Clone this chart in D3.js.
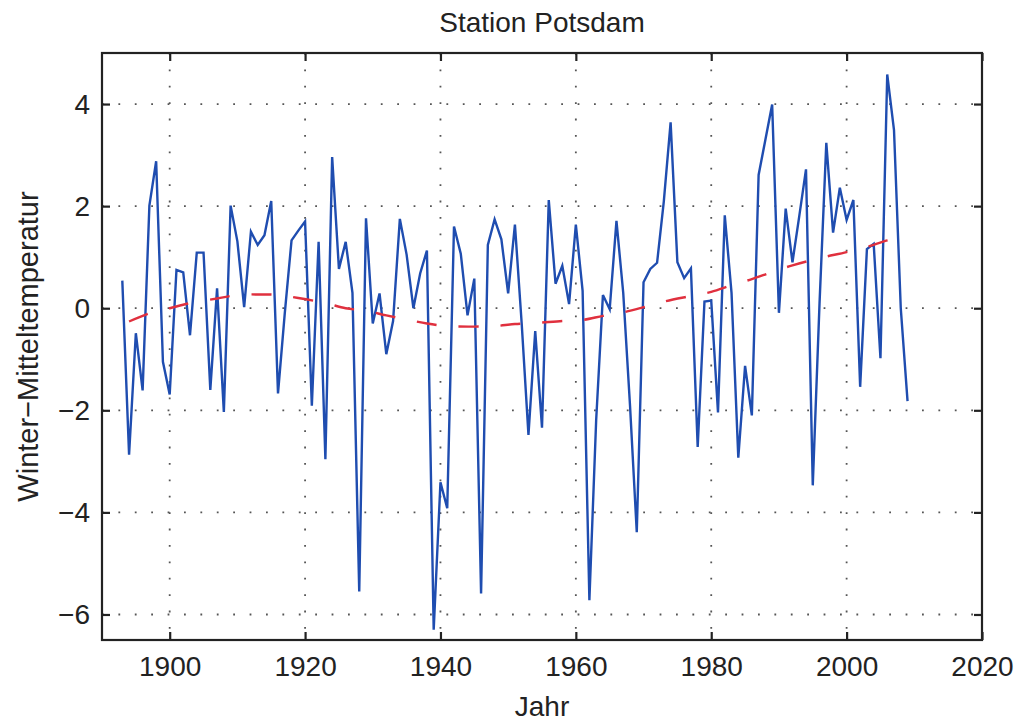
<!DOCTYPE html>
<html>
<head>
<meta charset="utf-8">
<script src="https://cdn.jsdelivr.net/npm/d3@7"></script>
<style>
  body { margin: 0; background: #fff; }
  text { font-family: "Liberation Sans", Arial, sans-serif; fill: #222; }
</style>
</head>
<body>
<div id="container"></div>
<script>
let w = 1016;
let h = 722;
let margin = {left: 102, right: 34, top: 53, bottom: 82};

// winter mean temperature, Potsdam, 1893-2009
let firstYear = 1893;
let temps = [
    0.54, -2.87, -0.49, -1.61, 2.01, 2.88, -1.05,
    -1.69, 0.75, 0.70, -0.53, 1.09, 1.09, -1.60, 0.39, -2.03, 2.01,
    1.31, 0.02, 1.50, 1.24, 1.43, 2.10, -1.67, -0.10, 1.33, 1.52,
    1.70, -1.91, 1.30, -2.96, 2.96, 0.77, 1.30, 0.30, -5.55, 1.76,
    -0.30, 0.29, -0.90, -0.25, 1.75, 1.05, 0.00, 0.68, 1.13, -6.30,
    -3.41, -3.92, 1.60, 1.07, -0.14, 0.58, -5.59, 1.24, 1.74, 1.35,
    0.29, 1.64, -0.30, -2.48, -0.45, -2.34, 2.12, 0.48, 0.83, 0.08,
    1.64, 0.34, -5.72, -2.20, 0.26, -0.02, 1.71, 0.30, -1.90, -4.39,
    0.51, 0.77, 0.89, 2.10, 3.64, 0.90, 0.59, 0.78, -2.72, 0.13,
    0.15, -2.04, 1.82, 0.30, -2.93, -1.13, -2.10, 2.61, 3.30, 3.99,
    -0.09, 1.95, 0.90, 1.80, 2.72, -3.47, 0.10, 3.24, 1.48, 2.36,
    1.73, 2.12, -1.54, 1.16, 1.26, -0.98, 4.58, 3.49, 0.00, -1.82
];

// smoothed trend (red dashed)
let trendYears = [1894, 1897, 1900, 1903, 1907, 1910, 1913, 1916, 1919, 1923,
    1926, 1929, 1932, 1935, 1938, 1941, 1945, 1948, 1951, 1954,
    1958, 1961, 1964, 1967, 1970, 1973, 1977, 1980, 1983, 1986,
    1989, 1992, 1996, 2000, 2003, 2006, 2009];
let trendValues = [-0.26, -0.10, 0.00, 0.10, 0.19, 0.26, 0.27, 0.26, 0.20, 0.10,
    0.00, -0.05, -0.14, -0.22, -0.30, -0.35, -0.36, -0.35, -0.31, -0.29,
    -0.25, -0.23, -0.15, -0.08, 0.02, 0.13, 0.24, 0.32, 0.45, 0.57,
    0.71, 0.84, 0.98, 1.10, 1.20, 1.33, 1.43];

let xTicks = [1900, 1920, 1940, 1960, 1980, 2000, 2020];
let yTicks = [-6, -4, -2, 0, 2, 4];

let series = temps.map((v, i) => ({year: firstYear + i, value: v}));
let trend = trendYears.map((y, i) => ({year: y, value: trendValues[i]}));

let x = d3.scaleLinear().domain([1890, 2020]).range([margin.left, w - margin.right]);
let y = d3.scaleLinear().domain([-6.5, 5]).range([h - margin.bottom, margin.top]);

let viz = d3.select("#container").append("svg")
    .attr("width", w)
    .attr("height", h);

// dotted grid
viz.append("g").selectAll("line").data(xTicks.slice(0, -1)).enter()
    .append("line")
    .attr("x1", d => x(d)).attr("x2", d => x(d))
    .attr("y1", margin.top).attr("y2", h - margin.bottom)
    .attr("stroke", "#555")
    .attr("stroke-width", 1.8)
    .attr("stroke-dasharray", "1.8,14.6");
viz.append("g").selectAll("line").data(yTicks).enter()
    .append("line")
    .attr("x1", margin.left).attr("x2", w - margin.right)
    .attr("y1", d => y(d)).attr("y2", d => y(d))
    .attr("stroke", "#555")
    .attr("stroke-width", 1.8)
    .attr("stroke-dasharray", "1.8,14.6");

// data line
let line = d3.line().x(d => x(d.year)).y(d => y(d.value));
viz.append("path")
    .datum(series)
    .attr("d", line)
    .attr("fill", "none")
    .attr("stroke", "#1f4db0")
    .attr("stroke-width", 2.4)
    .attr("stroke-linejoin", "miter");

// trend
viz.append("path")
    .datum(trend)
    .attr("d", line.curve(d3.curveCatmullRom))
    .attr("fill", "none")
    .attr("stroke", "#e0303e")
    .attr("stroke-width", 2.4)
    .attr("stroke-dasharray", "20,22");

// axes, matlab box style with inward ticks
let fmt = d => d < 0 ? "\u2212" + Math.abs(d) : d;
let xAxis = viz.append("g")
    .attr("transform", `translate(0,${h - margin.bottom})`)
    .call(d3.axisBottom(x).tickValues(xTicks).tickSize(-8).tickPadding(16).tickFormat(d => d));
let xTop = viz.append("g")
    .attr("transform", `translate(0,${margin.top})`)
    .call(d3.axisTop(x).tickValues(xTicks).tickSize(-8).tickFormat(""));
let yAxis = viz.append("g")
    .attr("transform", `translate(${margin.left},0)`)
    .call(d3.axisLeft(y).tickValues(yTicks).tickSize(-8).tickPadding(12).tickFormat(fmt));
let yRight = viz.append("g")
    .attr("transform", `translate(${w - margin.right},0)`)
    .call(d3.axisRight(y).tickValues(yTicks).tickSize(-8).tickFormat(""));

[xAxis, xTop, yAxis, yRight].forEach(g => {
    g.select(".domain").remove();
    g.selectAll(".tick line").attr("stroke", "#222").attr("stroke-width", 2.2);
    g.selectAll(".tick text")
        .style("font-family", "'Liberation Sans', Arial, sans-serif")
        .style("font-size", "28px")
        .attr("fill", "#222");
});

viz.append("rect")
    .attr("x", margin.left).attr("y", margin.top)
    .attr("width", w - margin.left - margin.right)
    .attr("height", h - margin.top - margin.bottom)
    .attr("fill", "none")
    .attr("stroke", "#222")
    .attr("stroke-width", 2.2);

// labels
viz.append("text")
    .attr("x", (margin.left + w - margin.right) / 2)
    .attr("y", 32)
    .attr("text-anchor", "middle")
    .style("font-size", "28px")
    .text("Station Potsdam");
viz.append("text")
    .attr("x", (margin.left + w - margin.right) / 2)
    .attr("y", 716)
    .attr("text-anchor", "middle")
    .style("font-size", "28px")
    .text("Jahr");
viz.append("text")
    .attr("transform", `translate(38,${(margin.top + h - margin.bottom) / 2}) rotate(-90)`)
    .attr("text-anchor", "middle")
    .style("font-size", "29px")
    .text("Winter\u2212Mitteltemperatur");
</script>
</body>
</html>
